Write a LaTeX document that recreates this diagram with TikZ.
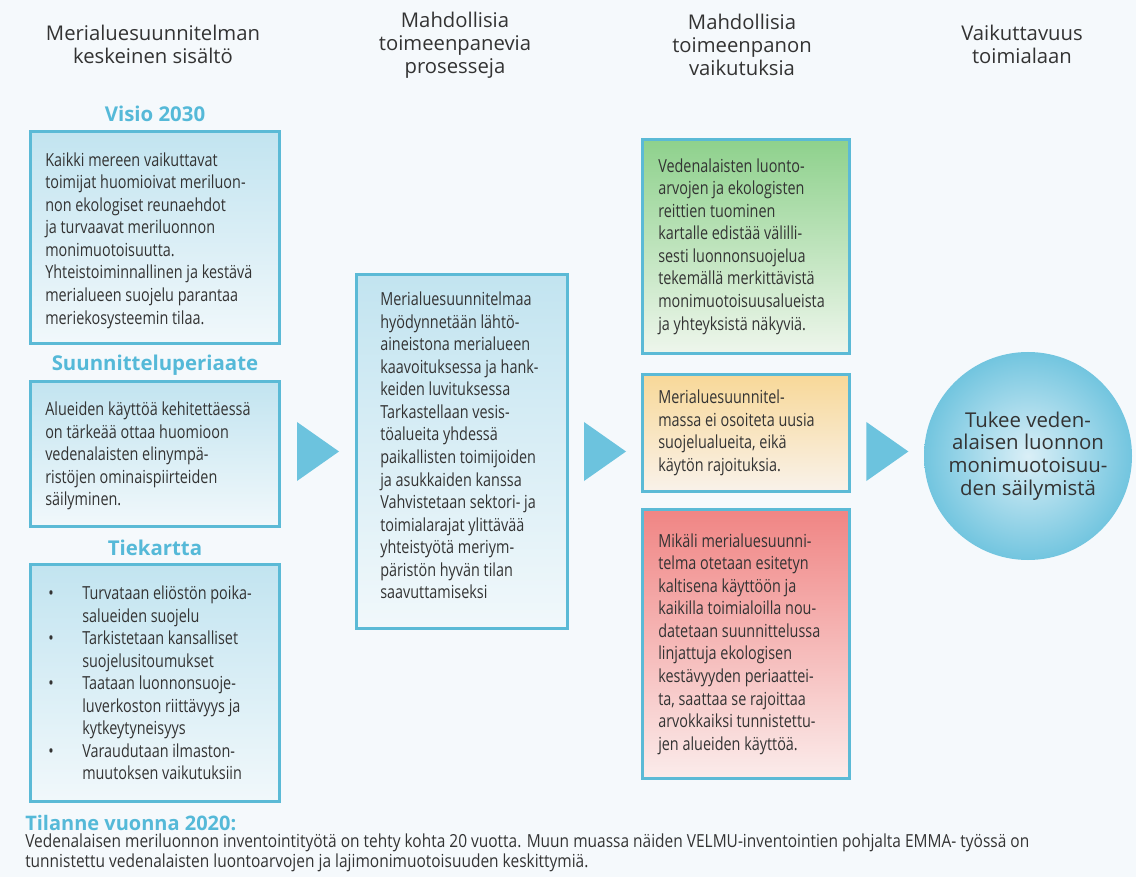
\documentclass[tikz,border=0pt]{standalone}
\usepackage{fontspec}
\setmainfont{Open Sans}
\newfontfamily\narrowfont[FakeStretch=0.8]{Open Sans}
\newfontfamily\notefont[FakeStretch=0.86]{Open Sans}
\usetikzlibrary{calc}
\usetikzlibrary{positioning}

\definecolor{pagebg}{HTML}{F5F9FC}
\definecolor{panelline}{HTML}{5BBAD6}
\definecolor{panelblue}{HTML}{C2E4F0}
\definecolor{panelpale}{HTML}{F1F8FB}
\definecolor{greentop}{HTML}{8ED18C}
\definecolor{greenbot}{HTML}{EEF6EC}
\definecolor{orangetop}{HTML}{F8D898}
\definecolor{orangebot}{HTML}{F9F2EA}
\definecolor{redtop}{HTML}{F08584}
\definecolor{redbot}{HTML}{FBECEB}
\definecolor{headblue}{HTML}{55B9D8}
\definecolor{inktext}{HTML}{333333}
\definecolor{pointerblue}{HTML}{6CC3DE}
\definecolor{circlein}{HTML}{DAEFF7}
\definecolor{circleout}{HTML}{72C5DF}

\newcommand{\bulitem}[1]{\makebox[25.5pt][l]{\textbullet}#1}
\newcommand{\bulcont}[1]{\hspace*{25.5pt}#1}
\newcommand{\pointer}[1]{\fill[pointer] ($(#1)+(-21,-29.5)$) -- ++(42,29.5) -- ++(-42,29.5) -- cycle;}

\tikzset{
  panel/.style={draw=panelline, line width=2.25pt, top color=panelblue, bottom color=panelpale,
    anchor=north west, inner sep=0pt},
  bodytext/.style={font=\narrowfont\fontsize{13.5}{16.9}\selectfont, text=inktext, align=left,
    anchor=west, inner sep=0pt},
  colhead/.style={font=\fontsize{15.2}{17.3}\selectfont, text=inktext, align=center},
  sectitle/.style={font=\bfseries\fontsize{15.3}{17}\selectfont, text=headblue},
  pointer/.style={fill=pointerblue},
}

\begin{document}
\begin{tikzpicture}[x=0.75pt, y=-0.75pt]
  \fill[pagebg] (0,0) rectangle (1136,877);
  \useasboundingbox (0,0) rectangle (1136,877);

  % column headings
  \node[colhead] (head1) at (153,44) {Merialuesuunnitelman\\keskeinen sisältö};
  \node[colhead] (head2) at (455,45) {Mahdollisia\\toimeenpanevia\\prosesseja};
  \node[colhead] (head3) at (742,45) {Mahdollisia\\toimeenpanon\\vaikutuksia};
  \node[colhead] (head4) at (1022,44) {Vaikuttavuus\\toimialaan};

  % left column
  \node[sectitle] (visiotitle) at (155,114) {Visio 2030};
  \node[panel, minimum width=186.75pt, minimum height=159pt] (visio) at (29,130) {};
  \node[bodytext] (visiotext) at ($(visio.west)+(16,3)$) {Kaikki mereen vaikuttavat\\toimijat huomioivat meriluon-\\non ekologiset reunaehdot\\ja turvaavat meriluonnon\\monimuotoisuutta.\\Yhteistoiminnallinen ja kestävä\\merialueen suojelu parantaa\\meriekosysteemin tilaa.};

  \node[sectitle] (periaatetitle) at (155,365) {Suunnitteluperiaate};
  \node[panel, minimum width=186.75pt, minimum height=108.75pt] (periaate) at (29,380) {};
  \node[bodytext] (periaatetext) at ($(periaate.west)+(16,2)$) {Alueiden käyttöä kehitettäessä\\on tärkeää ottaa huomioon\\vedenalaisten elinympä-\\ristöjen ominaispiirteiden\\säilyminen.};

  \node[sectitle] (karttatitle) at (155,548) {Tiekartta};
  \node[panel, minimum width=186.75pt, minimum height=177.75pt] (kartta) at (29,563) {};
  \node[bodytext] (karttatext) at ($(kartta.west)+(19,0)$) {\bulitem{Turvataan eliöstön poika-}\\\bulcont{salueiden suojelu}\\\bulitem{Tarkistetaan kansalliset}\\\bulcont{suojelusitoumukset}\\\bulitem{Taataan luonnonsuoje-}\\\bulcont{luverkoston riittävyys ja}\\\bulcont{kytkeytyneisyys}\\\bulitem{Varaudutaan ilmaston-}\\\bulcont{muutoksen vaikutuksiin}};

  % processes
  \node[panel, minimum width=158.25pt, minimum height=265.5pt] (prosessi) at (355,273) {};
  \node[bodytext] (prosessitext) at ($(prosessi.west)+(25,-6)$) {Merialuesuunnitelmaa\\hyödynnetään lähtö-\\aineistona merialueen\\kaavoituksessa ja hank-\\keiden luvituksessa\\Tarkastellaan vesis-\\töalueita yhdessä\\paikallisten toimijoiden\\ja asukkaiden kanssa\\Vahvistetaan sektori- ja\\toimialarajat ylittävää\\yhteistyötä meriym-\\päristön hyvän tilan\\saavuttamiseksi};

  % effects
  \node[panel, top color=greentop, bottom color=greenbot, minimum width=155.25pt, minimum height=160.5pt] (vihrea) at (641,138) {};
  \node[bodytext] (vihreatext) at ($(vihrea.west)+(17,0)$) {Vedenalaisten luonto-\\arvojen ja ekologisten\\reittien tuominen\\kartalle edistää välilli-\\sesti luonnonsuojelua\\tekemällä merkittävistä\\monimuotoisuusalueista\\ja yhteyksistä näkyviä.};

  \node[panel, top color=orangetop, bottom color=orangebot, minimum width=155.25pt, minimum height=87.75pt] (oranssi) at (641,373) {};
  \node[bodytext] (oranssitext) at ($(oranssi.west)+(17,0)$) {Merialuesuunnitel-\\massa ei osoiteta uusia\\suojelualueita, eikä\\käytön rajoituksia.};

  \node[panel, top color=redtop, bottom color=redbot, minimum width=155.25pt, minimum height=201.75pt] (punainen) at (641,508) {};
  \node[bodytext] (punainentext) at ($(punainen.west)+(17,0)$) {Mikäli merialuesuunni-\\telma otetaan esitetyn\\kaltisena käyttöön ja\\kaikilla toimialoilla nou-\\datetaan suunnittelussa\\linjattuja ekologisen\\kestävyyden periaattei-\\ta, saattaa se rajoittaa\\arvokkaiksi tunnistettu-\\jen alueiden käyttöä.};

  % outcome
  \node[circle, minimum size=156pt, inner sep=0pt, inner color=circlein, outer color=circleout] (tukee) at (1028,456) {};
  \node[font=\fontsize{15.3}{17}\selectfont, text=inktext, align=center] (tukeetext) at (tukee) {Tukee veden-\\alaisen luonnon\\monimuotoisuu-\\den säilymistä};

  % pointers between the columns
  \coordinate (gap1) at ($(visio.east |- prosessi.west)!0.5!(prosessi.west)$);
  \coordinate (gap2) at ($(prosessi.east)!0.5!(vihrea.west |- prosessi.east)$);
  \coordinate (gap3) at ($(vihrea.east |- prosessi.east)!0.5!(tukee.west |- prosessi.east)$);
  \pointer{gap1}
  \pointer{gap2}
  \pointer{gap3}

  % situation note
  \node[font=\bfseries\fontsize{15}{18}\selectfont, text=headblue, anchor=west, inner sep=0pt] (tilanne) at (25,823) {Tilanne vuonna 2020:};
  \node[font=\notefont\fontsize{13.5}{15}\selectfont, text=inktext, align=left, anchor=west, inner sep=0pt] (tilannetext) at (25,853) {Vedenalaisen meriluonnon inventointityötä on tehty kohta 20 vuotta. Muun muassa näiden VELMU-inventointien pohjalta EMMA- työssä on\\tunnistettu vedenalaisten luontoarvojen ja lajimonimuotoisuuden keskittymiä.};
\end{tikzpicture}
\end{document}
